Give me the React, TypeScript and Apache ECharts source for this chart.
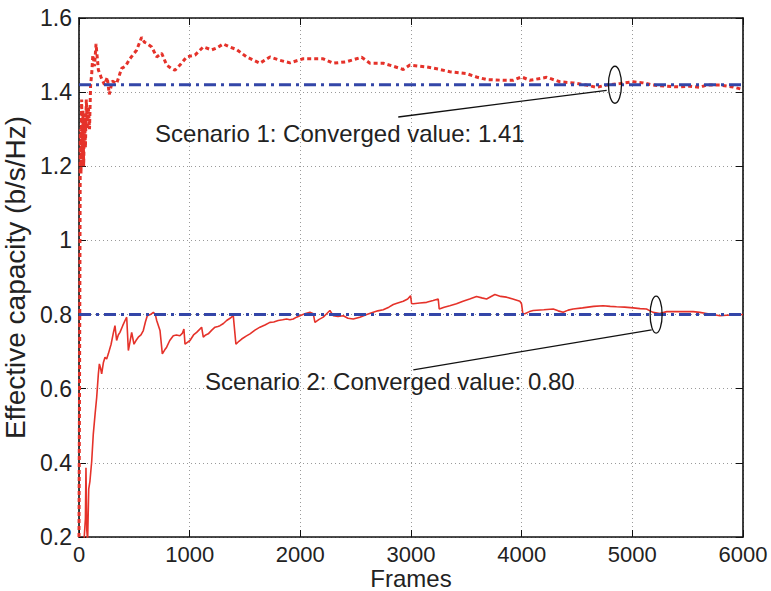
import React, { useEffect, useRef } from "react";
import * as echarts from "echarts";

// ---- Data ----
const xTicks = [0, 1000, 2000, 3000, 4000, 5000, 6000];
const yTicks = [0.2, 0.4, 0.6, 0.8, 1.0, 1.2, 1.4, 1.6];

const converged1 = 1.42;
const converged2 = 0.8;

const s1Frames = [0, 8, 12, 18, 24, 30, 36, 42, 50, 58, 66, 75, 85, 95, 105, 115, 125, 140, 154, 175, 200, 230, 255, 274, 300, 340, 385, 420, 460, 520, 566, 590, 611, 657, 702, 747, 792, 830, 867, 912, 973, 1048, 1123, 1198, 1250, 1303, 1360, 1424, 1515, 1635, 1725, 1815, 1906, 2026, 2100, 2207, 2297, 2418, 2508, 2554, 2629, 2749, 2840, 2930, 2990, 3141, 3250, 3351, 3502, 3600, 3683, 3833, 3923, 3999, 4074, 4225, 4345, 4465, 4586, 4676, 4767, 4887, 5008, 5098, 5188, 5309, 5429, 5519, 5610, 5670, 5790, 5910, 6000];
const s1Values = [0.2, 0.9, 1.3, 1.18, 1.38, 1.22, 1.35, 1.2, 1.33, 1.25, 1.38, 1.3, 1.36, 1.3, 1.42, 1.45, 1.5, 1.47, 1.53, 1.46, 1.44, 1.42, 1.44, 1.394, 1.43, 1.423, 1.464, 1.47, 1.49, 1.513, 1.548, 1.535, 1.532, 1.522, 1.495, 1.505, 1.473, 1.465, 1.459, 1.473, 1.495, 1.5, 1.522, 1.514, 1.52, 1.53, 1.522, 1.515, 1.495, 1.478, 1.495, 1.486, 1.479, 1.49, 1.49, 1.49, 1.478, 1.482, 1.49, 1.494, 1.478, 1.478, 1.47, 1.461, 1.473, 1.468, 1.462, 1.455, 1.45, 1.44, 1.434, 1.432, 1.432, 1.441, 1.432, 1.44, 1.428, 1.425, 1.419, 1.413, 1.419, 1.423, 1.428, 1.425, 1.419, 1.416, 1.414, 1.416, 1.413, 1.419, 1.419, 1.414, 1.407];

const s2Frames = [5, 45, 58, 63, 70, 78, 88, 99, 115, 129, 145, 160, 175, 184, 195, 205, 220, 235, 250, 265, 290, 310, 325, 340, 355, 370, 395, 416, 431, 446, 460, 476, 497, 515, 536, 560, 581, 600, 617, 645, 672, 690, 702, 732, 753, 775, 792, 820, 852, 880, 912, 935, 948, 958, 980, 1003, 1035, 1063, 1090, 1108, 1123, 1145, 1168, 1200, 1229, 1255, 1274, 1305, 1334, 1365, 1394, 1418, 1445, 1470, 1510, 1545, 1590, 1635, 1680, 1725, 1760, 1800, 1840, 1876, 1906, 1936, 1966, 1996, 2040, 2087, 2117, 2132, 2170, 2207, 2240, 2267, 2297, 2340, 2388, 2430, 2478, 2538, 2600, 2659, 2700, 2749, 2800, 2840, 2880, 2930, 2970, 2996, 3005, 3020, 3080, 3141, 3200, 3246, 3255, 3300, 3350, 3411, 3470, 3530, 3592, 3640, 3683, 3720, 3758, 3810, 3863, 3920, 3984, 3999, 4010, 4029, 4070, 4104, 4200, 4285, 4330, 4375, 4420, 4465, 4550, 4650, 4736, 4800, 4857, 4930, 5008, 5070, 5128, 5160, 5188, 5248, 5310, 5369, 5450, 5550, 5610, 5670, 5730, 5790, 5850, 5920, 6000];
const s2Values = [0.18, 0.19, 0.25, 0.387, 0.22, 0.19, 0.33, 0.351, 0.405, 0.477, 0.53, 0.577, 0.64, 0.667, 0.655, 0.64, 0.67, 0.685, 0.68, 0.694, 0.72, 0.75, 0.77, 0.73, 0.745, 0.752, 0.77, 0.784, 0.793, 0.703, 0.725, 0.752, 0.72, 0.73, 0.739, 0.745, 0.757, 0.78, 0.797, 0.8, 0.806, 0.8, 0.784, 0.757, 0.694, 0.705, 0.712, 0.73, 0.743, 0.745, 0.743, 0.75, 0.761, 0.72, 0.725, 0.73, 0.745, 0.752, 0.76, 0.766, 0.739, 0.745, 0.748, 0.758, 0.766, 0.768, 0.77, 0.776, 0.784, 0.79, 0.797, 0.72, 0.728, 0.734, 0.742, 0.748, 0.758, 0.766, 0.772, 0.779, 0.78, 0.784, 0.786, 0.788, 0.786, 0.788, 0.793, 0.797, 0.802, 0.806, 0.802, 0.779, 0.787, 0.793, 0.803, 0.811, 0.797, 0.795, 0.797, 0.79, 0.788, 0.793, 0.8, 0.806, 0.81, 0.813, 0.82, 0.827, 0.831, 0.836, 0.842, 0.851, 0.83, 0.829, 0.831, 0.833, 0.838, 0.842, 0.815, 0.82, 0.824, 0.829, 0.836, 0.842, 0.849, 0.845, 0.842, 0.848, 0.854, 0.849, 0.847, 0.842, 0.836, 0.829, 0.803, 0.802, 0.808, 0.811, 0.813, 0.815, 0.81, 0.806, 0.812, 0.815, 0.818, 0.822, 0.824, 0.822, 0.821, 0.82, 0.818, 0.816, 0.815, 0.81, 0.806, 0.803, 0.808, 0.808, 0.808, 0.808, 0.806, 0.803, 0.8, 0.797, 0.798, 0.799, 0.8];

// annotation anchors in data coordinates
const label1 = { text: "Scenario 1: Converged value: 1.41", frame: 687, value: 1.289 };
const label2 = { text: "Scenario 2: Converged value: 0.80", frame: 1139, value: 0.619 };
const ellipse1 = { frame: 4843, value: 1.42 };
const ellipse2 = { frame: 5215, value: 0.8 };
const leader1 = { from: [2885, 1.333], to: [4768, 1.405] };
const leader2 = { from: [3021, 0.651], to: [5175, 0.759] };
const xTitle = "Frames";
const yTitle = "Effective capacity (b/s/Hz)";

const FONT = "Liberation Sans, Arial, Helvetica, sans-serif";
const RED = "#e5322a";
const BLUE = "#3346a8";

export default function App() {
  const ref = useRef<HTMLDivElement>(null);
  useEffect(() => {
    document.body.style.margin = "0";
    const chart = echarts.init(ref.current!, null, { renderer: "svg" });
    const axisCommon = {
      axisLine: { show: true, onZero: false, lineStyle: { color: "#111", width: 1.6 } },
      axisTick: { show: true, inside: true, length: 7, lineStyle: { color: "#111", width: 1 } },
    };
    const s1 = s1Frames.map((f, i) => [f, s1Values[i]]);
    const s2 = s2Frames.map((f, i) => [f, s2Values[i]]);
    chart.setOption({
      animation: false,
      backgroundColor: "#fff",
      grid: { left: 79, right: 28, top: 18, bottom: 54, containLabel: false, outerBoundsMode: "none" },
      xAxis: [
        {
          type: "value", min: xTicks[0], max: xTicks[xTicks.length - 1], interval: 1000, position: "bottom",
          ...axisCommon,
          axisLabel: { fontSize: 22, color: "#222", fontFamily: FONT, margin: 6, formatter: (v: number) => String(v) },
          splitLine: { show: true, lineStyle: { color: "#9a9a9a", type: [1, 3], width: 1 } },
        },
        {
          type: "value", min: xTicks[0], max: xTicks[xTicks.length - 1], interval: 1000, position: "top",
          ...axisCommon, axisLabel: { show: false }, splitLine: { show: false },
        },
      ],
      yAxis: [
        {
          type: "value", min: yTicks[0], max: yTicks[yTicks.length - 1], interval: 0.2, position: "left",
          ...axisCommon,
          axisLabel: { fontSize: 23, color: "#222", fontFamily: FONT, margin: 7, formatter: (v: number) => String(+v.toFixed(1)) },
          splitLine: { show: true, lineStyle: { color: "#9a9a9a", type: [1, 3], width: 1 } },
          name: yTitle, nameLocation: "middle", nameGap: 45,
          nameTextStyle: { fontSize: 28, color: "#222", fontFamily: FONT },
        },
        {
          type: "value", min: yTicks[0], max: yTicks[yTicks.length - 1], interval: 0.2, position: "right",
          ...axisCommon, axisLabel: { show: false }, splitLine: { show: false },
        },
      ],
      series: [
        {
          type: "line", data: s1, showSymbol: false, symbol: "none",
          lineStyle: { color: RED, width: 3, type: [4, 3] }, z: 3,
        },
        {
          type: "line", data: s2, showSymbol: false, symbol: "none",
          lineStyle: { color: RED, width: 1.6 }, z: 3,
        },
        {
          type: "line", data: [[xTicks[0], converged1], [xTicks[xTicks.length - 1], converged1]], showSymbol: false, symbol: "none",
          lineStyle: { color: BLUE, width: 3, type: [12, 5, 3, 5] }, z: 4,
        },
        {
          type: "line", data: [[xTicks[0], converged2], [xTicks[xTicks.length - 1], converged2]], showSymbol: false, symbol: "none",
          lineStyle: { color: BLUE, width: 3, type: [12, 5, 3, 5] }, z: 4,
        },
      ],
    });
    const px = (f: number, v: number) => chart.convertToPixel({ xAxisIndex: 0, yAxisIndex: 0 }, [f, v]) as number[];
    const e1 = px(ellipse1.frame, ellipse1.value);
    const e2 = px(ellipse2.frame, ellipse2.value);
    const l1a = px(leader1.from[0], leader1.from[1]);
    const l1b = px(leader1.to[0], leader1.to[1]);
    const l2a = px(leader2.from[0], leader2.from[1]);
    const l2b = px(leader2.to[0], leader2.to[1]);
    const t1 = px(label1.frame, label1.value);
    const t2 = px(label2.frame, label2.value);
    const xt = px((xTicks[0] + xTicks[xTicks.length - 1]) / 2, yTicks[0]);
    const stroke = { fill: "none", stroke: "#111", lineWidth: 1.3 };
    const textStyle = (t: string) => ({ text: t, fontSize: 24, fontFamily: FONT, fill: "#222", verticalAlign: "middle", align: "left" });
    chart.setOption({
      graphic: [
        { type: "ellipse", shape: { cx: e1[0], cy: e1[1], rx: 6.5, ry: 18.5 }, style: stroke, z: 10 },
        { type: "ellipse", shape: { cx: e2[0], cy: e2[1], rx: 6, ry: 18.5 }, style: stroke, z: 10 },
        { type: "line", shape: { x1: l1a[0], y1: l1a[1], x2: l1b[0], y2: l1b[1] }, style: { stroke: "#111", lineWidth: 1.3 }, z: 10 },
        { type: "line", shape: { x1: l2a[0], y1: l2a[1], x2: l2b[0], y2: l2b[1] }, style: { stroke: "#111", lineWidth: 1.3 }, z: 10 },
        { type: "text", x: t1[0], y: t1[1], style: textStyle(label1.text), z: 10 },
        { type: "text", x: t2[0], y: t2[1], style: textStyle(label2.text), z: 10 },
        {
          type: "text", x: xt[0], y: xt[1] + 41.5,
          style: { text: xTitle, fontSize: 24, fontFamily: FONT, fill: "#222", verticalAlign: "middle", align: "center" }, z: 10,
        },
      ],
    });
    return () => chart.dispose();
  }, []);
  return <div ref={ref} style={{ position: "absolute", left: 0, top: 0, width: 771, height: 591 }} />;
}
